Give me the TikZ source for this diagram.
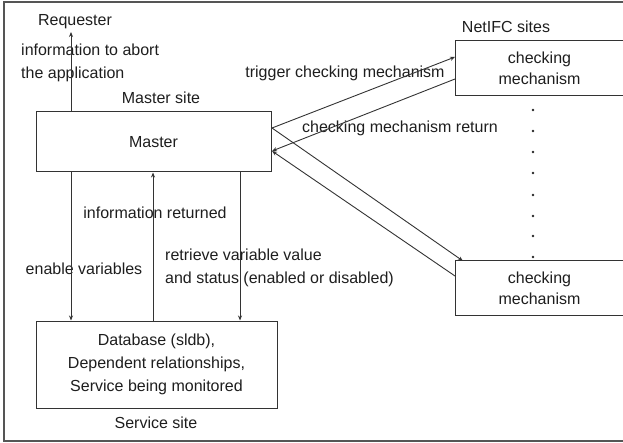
\documentclass[tikz,border=0pt]{standalone}
\usepackage{fontspec}
\setmainfont{Liberation Sans}
\usetikzlibrary{arrows.meta,positioning,calc}
\definecolor{ln}{HTML}{333333}
\definecolor{tx}{HTML}{1E1E1E}
\definecolor{fr}{HTML}{555555}
\begin{document}
\begin{tikzpicture}[x=1pt,y=-1pt,
  every node/.style={font=\fontsize{16}{23}\selectfont,text=tx,inner sep=0pt},
  box/.style={draw=ln,line width=1pt,fill=white,align=center},
  lbl/.style={align=left},
  arr/.style={draw=ln,line width=0.9pt,-{Stealth[length=5pt,width=4pt]}},
  ln/.style={draw=ln,line width=0.9pt}]
\useasboundingbox (0,0) rectangle (623,443);
\clip (0,0) rectangle (623,443);
\draw[fr,line width=1.3pt] (4,2) rectangle (627,441);
% boxes
\node[box,minimum width=235pt,minimum height=60pt] (master) at (153.5,142) {Master};
\node[box,minimum width=241pt,minimum height=87pt] (db) at (156.5,364.5) {Database (sldb),\\Dependent relationships,\\Service being monitored};
\node[box,minimum width=169pt,minimum height=55pt,font=\fontsize{16}{21}\selectfont] (c1) at (539.5,68.5) {checking\\mechanism};
\node[box,minimum width=169pt,minimum height=54pt,font=\fontsize{16}{21}\selectfont] (c2) at (539.5,288) {checking\\mechanism};
% labels
\node (req) at (75,22) {Requester};
\node[lbl,anchor=north west] (abort) at (21,44) {information to abort\\the application};
\node (msite) at (161,98) {Master site};
\node (ssite) at (156,423) {Service site};
\node (nsite) at (506,27) {NetIFC sites};
\node (inforet) at (155,213) {information returned};
\node (enable) at (84,269) {enable variables};
\node[lbl,anchor=north west] (retr) at (165,249) {retrieve variable value\\and status (enabled or disabled)};
\node (trig) at (345,73) {trigger checking mechanism};
\node (cret) at (400,128) {checking mechanism return};
% coordinates
\coordinate (xa) at (71,0);
\coordinate (xb) at (153,0);
\coordinate (xc) at (240,0);
\coordinate (m1) at (272,128);
\coordinate (m2) at (272,151);
\coordinate (c1a) at (455,57);
\coordinate (c1b) at (455,79);
\coordinate (c2a) at (463,261);
\coordinate (c2b) at (455,276);
\coordinate (rq) at (71,32);
% connectors
\draw[arr] (master.north -| xa) -- (rq);
\draw[arr] (master.south -| xa) -- (db.north -| xa);
\draw[arr] (db.north -| xb) -- (master.south -| xb);
\draw[arr] (master.south -| xc) -- (db.north -| xc);
\draw[arr] (m1) -- (c1a);
\draw[arr] (c1b) -- (m2);
\draw[arr] (m1) -- (c2a);
\draw[arr] (c2b) -- (m2);
% dots
\foreach \y in {110,131,152,173,195,216,236,257}
  \fill[ln] (533,\y) circle (0.8pt);
\end{tikzpicture}
\end{document}
